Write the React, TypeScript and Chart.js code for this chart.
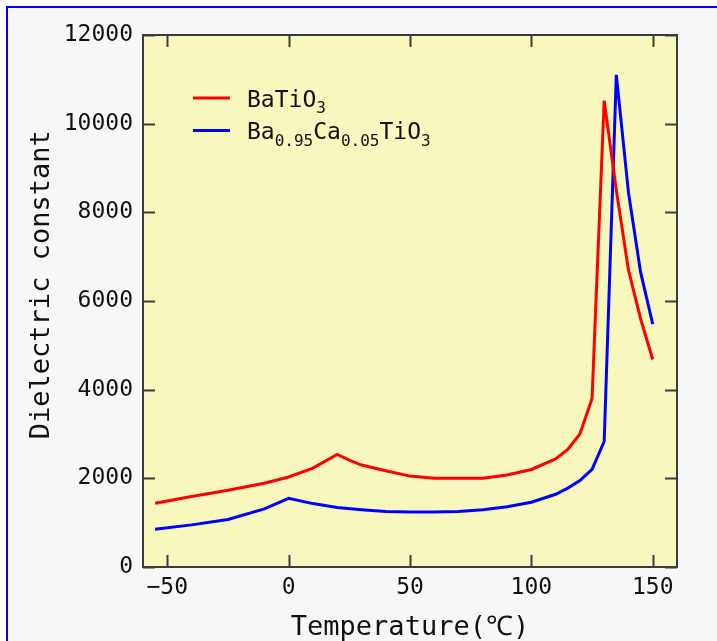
import { useEffect, useRef } from "react";
import { Chart, registerables } from "chart.js";

Chart.register(...registerables);

// ---- data ----
const tempsBaTiO3 = [-55, -40, -25, -10, 0, 10, 20, 25, 30, 40, 50, 60, 70, 80, 90, 100, 110, 115, 120, 125, 130, 135, 140, 145, 150];
const valuesBaTiO3 = [1440, 1590, 1730, 1890, 2030, 2230, 2540, 2410, 2300, 2170, 2050, 2000, 2000, 2000, 2075, 2200, 2440, 2650, 3000, 3800, 10520, 8500, 6700, 5600, 4680];

const tempsBaCaTiO3 = [-55, -40, -25, -10, 0, 10, 20, 30, 40, 50, 60, 70, 80, 90, 100, 110, 115, 120, 125, 130, 135, 140, 145, 150];
const valuesBaCaTiO3 = [850, 950, 1070, 1310, 1550, 1430, 1340, 1290, 1250, 1240, 1240, 1250, 1290, 1360, 1460, 1640, 1780, 1950, 2200, 2830, 11100, 8450, 6650, 5480];

const labelBaTiO3: [string, boolean][] = [["BaTiO", false], ["3", true]];
const labelBaCaTiO3: [string, boolean][] = [["Ba", false], ["0.95", true], ["Ca", false], ["0.05", true], ["TiO", false], ["3", true]];

const xTicks = [-50, 0, 50, 100, 150];
const yTicks = [0, 2000, 4000, 6000, 8000, 10000, 12000];

const FONT = "'DejaVu Sans Mono', monospace";

const plotBg = {
  id: "plotBg",
  beforeDatasetsDraw(chart: any) {
    const { ctx, chartArea: a } = chart;
    ctx.save();
    ctx.fillStyle = "#F8F7BE";
    ctx.fillRect(a.left, a.top, a.right - a.left, a.bottom - a.top);
    ctx.restore();
  },
};

const frameTicks = {
  id: "frameTicks",
  afterDatasetsDraw(chart: any) {
    const { ctx, chartArea: a, scales } = chart;
    ctx.save();
    ctx.strokeStyle = "#3c3c3c";
    ctx.lineWidth = 2;
    const len = 12;
    ctx.beginPath();
    for (const v of xTicks) {
      const px = Math.round(scales.x.getPixelForValue(v)) + 0.5;
      ctx.moveTo(px, a.bottom);
      ctx.lineTo(px, a.bottom - len);
      ctx.moveTo(px, a.top);
      ctx.lineTo(px, a.top + len);
    }
    for (const v of yTicks) {
      const py = Math.round(scales.y.getPixelForValue(v)) + 0.5;
      ctx.moveTo(a.left, py);
      ctx.lineTo(a.left + len, py);
      ctx.moveTo(a.right, py);
      ctx.lineTo(a.right - len, py);
    }
    ctx.stroke();
    ctx.strokeRect(a.left, a.top, a.right - a.left, a.bottom - a.top);
    ctx.restore();
  },
};

const subLegend = {
  id: "subLegend",
  afterDatasetsDraw(chart: any) {
    const { ctx, chartArea: a } = chart;
    ctx.save();
    chart.data.datasets.forEach((ds: any, i: number) => {
      const y = a.top + 63 + i * 32.5;
      ctx.strokeStyle = ds.borderColor;
      ctx.lineWidth = 3;
      ctx.beginPath();
      ctx.moveTo(a.left + 50, y);
      ctx.lineTo(a.left + 87, y);
      ctx.stroke();
      let x = a.left + 104;
      ctx.fillStyle = "#111";
      ctx.textBaseline = "alphabetic";
      ctx.textAlign = "left";
      for (const [text, sub] of ds.labelParts as [string, boolean][]) {
        ctx.font = sub ? `16px ${FONT}` : `23px ${FONT}`;
        ctx.fillText(text, x, y + (sub ? 15 : 8.5));
        x += ctx.measureText(text).width;
      }
    });
    ctx.restore();
  },
};

export default function App() {
  const ref = useRef<HTMLCanvasElement>(null);

  useEffect(() => {
    if (!ref.current) return;
    const chart = new Chart(ref.current, {
      type: "line",
      data: {
        datasets: [
          {
            label: "BaTiO3",
            labelParts: labelBaTiO3,
            data: tempsBaTiO3.map((t, i) => ({ x: t, y: valuesBaTiO3[i] })),
            borderColor: "#FF0000",
            borderWidth: 3,
            pointRadius: 0,
            tension: 0,
            fill: false,
          } as any,
          {
            label: "Ba0.95Ca0.05TiO3",
            labelParts: labelBaCaTiO3,
            data: tempsBaCaTiO3.map((t, i) => ({ x: t, y: valuesBaCaTiO3[i] })),
            borderColor: "#0000FF",
            borderWidth: 3,
            pointRadius: 0,
            tension: 0,
            fill: false,
          } as any,
        ],
      },
      options: {
        animation: false,
        responsive: false,
        layout: { padding: { left: 0, top: 35, right: 40, bottom: 0 } },
        plugins: { legend: { display: false }, tooltip: { enabled: false } },
        scales: {
          x: {
            type: "linear",
            min: -60,
            max: 160,
            afterBuildTicks: (s: any) => {
              s.ticks = xTicks.map((v) => ({ value: v }));
            },
            afterFit: (s: any) => {
              s.height = 74;
            },
            grid: { display: false, drawTicks: false },
            border: { display: false },
            ticks: {
              padding: 7,
              color: "#111",
              font: { family: FONT, size: 23 },
              maxRotation: 0,
              callback: (v: any) => String(v).replace("-", "\u2212"),
            },
            title: {
              display: true,
              text: "Temperature(\u2103)",
              color: "#111",
              font: { family: FONT, size: 27, lineHeight: 1 },
              padding: { top: 0, bottom: 0 },
            },
          },
          y: {
            type: "linear",
            min: 0,
            max: 12000,
            afterBuildTicks: (s: any) => {
              s.ticks = yTicks.map((v) => ({ value: v }));
            },
            afterFit: (s: any) => {
              s.width = 143;
            },
            grid: { display: false, drawTicks: false },
            border: { display: false },
            ticks: {
              padding: 10,
              color: "#111",
              font: { family: FONT, size: 23 },
              callback: (v: any) => String(v),
            },
            title: {
              display: true,
              text: "  Dielectric constant",
              color: "#111",
              font: { family: FONT, size: 27, lineHeight: 1 },
              padding: { top: 28, bottom: 0 },
            },
          },
        },
      } as any,
      plugins: [plotBg, frameTicks, subLegend],
    });
    return () => chart.destroy();
  }, []);

  return (
    <div style={{ position: "fixed", left: 0, top: 0, width: 717, height: 641, overflow: "hidden", background: "#ffffff" }}>
      <div
        style={{
          position: "absolute",
          left: 6,
          top: 6,
          width: 730,
          height: 660,
          boxSizing: "border-box",
          border: "2px solid #0000FF",
          background: "#F7F7F7",
        }}
      />
      <canvas ref={ref} width={717} height={641} style={{ position: "absolute", left: 0, top: 0, width: 717, height: 641 }} />
    </div>
  );
}
